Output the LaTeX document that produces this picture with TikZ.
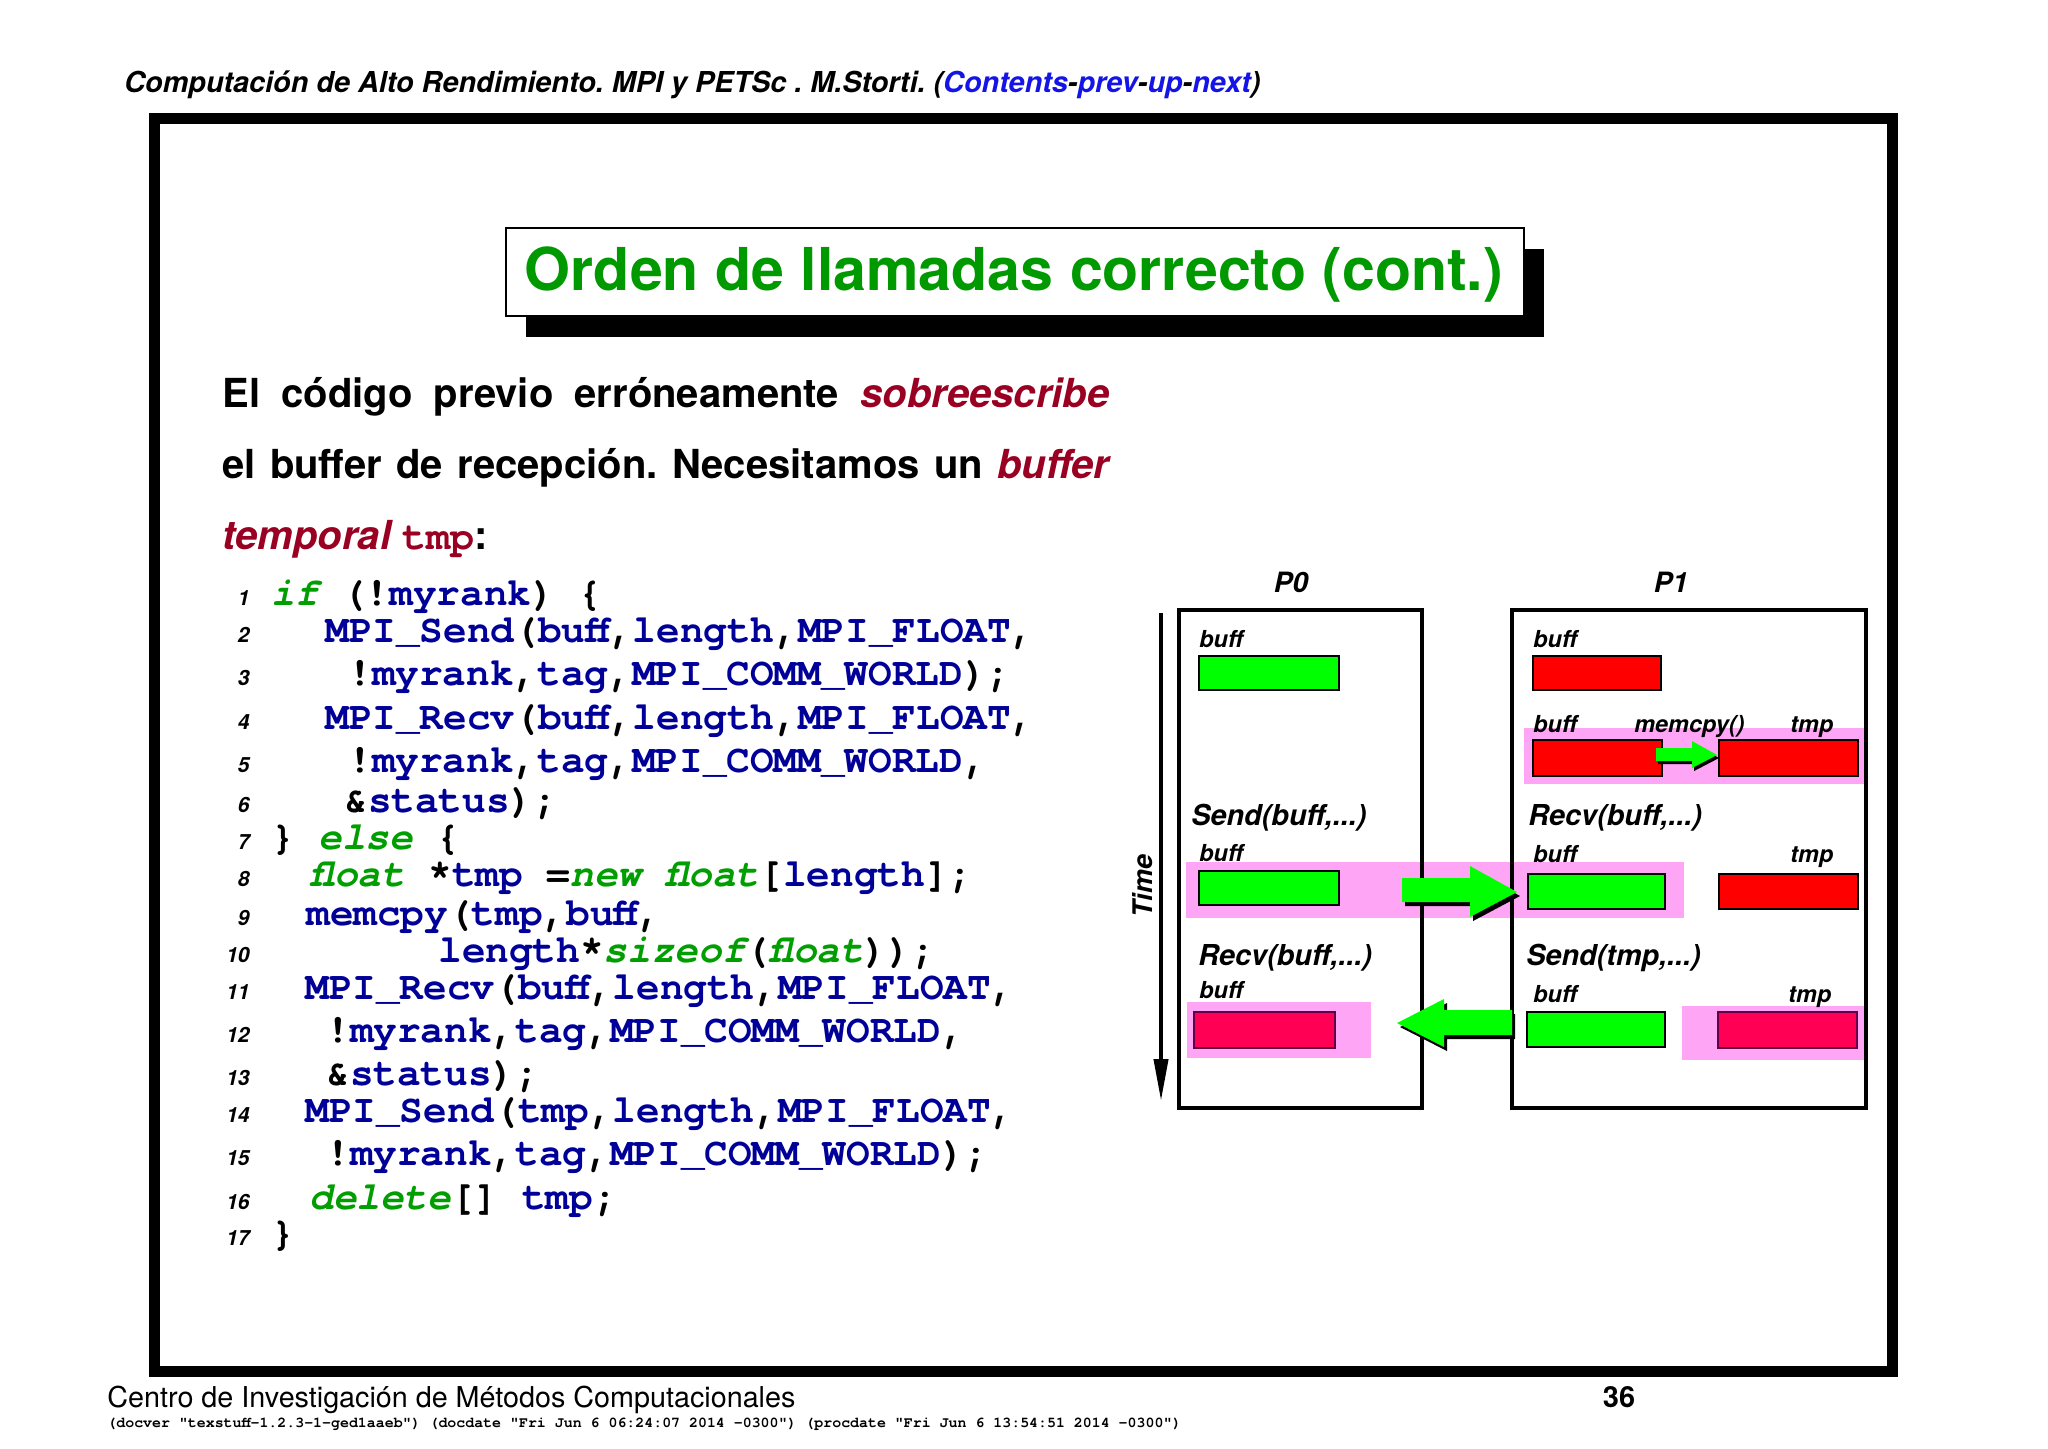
\documentclass[tikz,border=0pt]{standalone}
\usepackage{fontspec}
\usepackage{graphicx}
\setmainfont{TeX Gyre Heros}
\setmonofont{TeX Gyre Cursor}
\usetikzlibrary{arrows.meta,fit}
\definecolor{titgreen}{RGB}{0,153,0}
\definecolor{codeblue}{RGB}{0,0,153}
\definecolor{codegreen}{RGB}{0,158,0}
\definecolor{darkred}{RGB}{153,0,34}
\definecolor{linkblue}{RGB}{20,20,230}
\definecolor{pinkband}{RGB}{255,165,245}
\definecolor{crimson}{RGB}{255,0,85}
\definecolor{crimsonedge}{RGB}{100,0,70}
\definecolor{bgreen}{RGB}{0,255,0}
\definecolor{bred}{RGB}{255,0,0}
\newcommand\cb[1]{\textcolor{codeblue}{#1}}
\newcommand\kw[1]{\textcolor{codegreen}{\itshape #1}}
\newcommand\dr[1]{\textcolor{darkred}{#1}}
\newcommand\lk[1]{\textcolor{linkblue}{#1}}
\frenchspacing
\begin{document}
\begin{tikzpicture}[x=0.5pt,y=-0.5pt,
  lbl/.style={anchor=base west, inner sep=0, font=\bfseries\itshape\fontsize{11.7}{12}\selectfont},
  callt/.style={anchor=base west, inner sep=0, font=\bfseries\itshape\fontsize{14.4}{15}\selectfont},
  proc/.style={anchor=base, inner sep=0, font=\bfseries\itshape\fontsize{14}{15}\selectfont},
  code/.style={anchor=base west, inner sep=0, text height=12pt, text depth=2.5pt, font=\ttfamily\bfseries\fontsize{19.7}{21}\selectfont},
  lnum/.style={anchor=base east, inner sep=0, font=\bfseries\itshape\fontsize{10.5}{11}\selectfont},
  body/.style={anchor=base west, inner sep=0, font=\bfseries\fontsize{20}{22}\selectfont\frenchspacing},
  buf/.style={draw=black, line width=1.4pt, inner sep=0},
  band/.style={fill=pinkband, inner sep=0},
  procbox/.style={draw=black, line width=2pt, inner sep=0},
  shadowfill/.style={fill=black},
  arrfill/.style={fill=bgreen}]
\useasboundingbox (0,0) rectangle (2048,1448);
\fill[white] (0,0) rectangle (2048,1448);

% header
\node[anchor=base west, inner sep=0] (hdr) at (124,92) {\resizebox{568pt}{!}{\bfseries\itshape Computación de Alto Rendimiento. MPI y PETSc . M.Storti. (\lk{Contents}-\lk{prev}-\lk{up}-\lk{next})}};

% frame
\draw[line width=5.5pt] (154,118) rectangle (1892,1371);

% title
\node[minimum width=509pt, minimum height=44pt, inner sep=0] (title) at (1015,272) {};
\fill[black] ([shift={(20,21)}]title.south west) rectangle ([shift={(20,21)}]title.north east);
\filldraw[fill=white, draw=black, line width=1pt] (title.south west) rectangle (title.north east);
\node[anchor=base, inner sep=0, text=titgreen, font=\bfseries] (ttl) at (1014,290) {\resizebox{489pt}{!}{Orden de llamadas correcto (cont.)}};

% body text
\node[body] (t1) at (222,407) {\makebox[443.5pt][s]{El código previo erróneamente \dr{\itshape sobreescribe}}};
\node[body] (t2) at (222,478) {\makebox[443.5pt][s]{el buffer de recepción. Necesitamos un \dr{\itshape buffer}}};
\node[body] (t3) at (222,549) {\dr{\itshape temporal} \dr{\ttfamily tmp}:};

% code
\node[lnum] (n1) at (250,605) {1};
\node[lnum] (n2) at (250,642) {2};
\node[lnum] (n3) at (250,685) {3};
\node[lnum] (n4) at (250,729) {4};
\node[lnum] (n5) at (250,772) {5};
\node[lnum] (n6) at (250,812) {6};
\node[lnum] (n7) at (250,849) {7};
\node[lnum] (n8) at (250,886) {8};
\node[lnum] (n9) at (250,925) {9};
\node[lnum] (n10) at (250,962) {10};
\node[lnum] (n11) at (250,999) {11};
\node[lnum] (n12) at (250,1042) {12};
\node[lnum] (n13) at (250,1085) {13};
\node[lnum] (n14) at (250,1122) {14};
\node[lnum] (n15) at (250,1165) {15};
\node[lnum] (n16) at (250,1209) {16};
\node[lnum] (n17) at (250,1245) {17};

\node[code] (c1) at (271,605) {\kw{if} (!\cb{myrank}) \{};
\node[code] (c2) at (325,642) {\cb{MPI\_Send}(\cb{buff},\cb{length},\cb{MPI\_FLOAT},};
\node[code] (c3) at (348,685) {!\cb{myrank},\cb{tag},\cb{MPI\_COMM\_WORLD});};
\node[code] (c4) at (325,729) {\cb{MPI\_Recv}(\cb{buff},\cb{length},\cb{MPI\_FLOAT},};
\node[code] (c5) at (348,772) {!\cb{myrank},\cb{tag},\cb{MPI\_COMM\_WORLD},};
\node[code] (c6) at (344,812) {\&\cb{status});};
\node[code] (c7) at (271,849) {\} \kw{else} \{};
\node[code] (c8) at (310,886) {\kw{float} *\cb{tmp} =\kw{new} \kw{float}[\cb{length}];};
\node[code] (c9) at (306,925) {\cb{memcpy}(\cb{tmp},\cb{buff},};
\node[code] (c10) at (438,962) {\cb{length}*\kw{sizeof}(\kw{float}));};
\node[code] (c11) at (305,999) {\cb{MPI\_Recv}(\cb{buff},\cb{length},\cb{MPI\_FLOAT},};
\node[code] (c12) at (326,1042) {!\cb{myrank},\cb{tag},\cb{MPI\_COMM\_WORLD},};
\node[code] (c13) at (326,1085) {\&\cb{status});};
\node[code] (c14) at (305,1122) {\cb{MPI\_Send}(\cb{tmp},\cb{length},\cb{MPI\_FLOAT},};
\node[code] (c15) at (326,1165) {!\cb{myrank},\cb{tag},\cb{MPI\_COMM\_WORLD});};
\node[code] (c16) at (309,1209) {\kw{delete}[] \cb{tmp};};
\node[code] (c17) at (271,1245) {\}};

% ---------- diagram ----------
% pink bands
\node[band, fit={(1524,728) (1868,784)}] (pb1) {};
\node[band, fit={(1186,862) (1684,918)}] (pb2) {};
\node[band, fit={(1187,1002) (1371,1058)}] (pb3) {};
\node[band, fit={(1682,1006) (1866,1060)}] (pb4) {};

% process boxes
\node[procbox, fit={(1179,610) (1422,1108)}] (P0box) {};
\node[procbox, fit={(1512,610) (1866,1108)}] (P1box) {};
\node[proc] (P0) at (1291,592) {P0};
\node[proc] (P1) at (1671,592) {P1};

% time axis
\coordinate (tA) at (1161,613);
\coordinate (tB) at (1161,1101);
\draw[line width=2pt, -{Triangle[length=21pt,width=7pt]}] (tA) -- (tB);
\node[rotate=90, inner sep=0, font=\bfseries\itshape\fontsize{13.5}{14}\selectfont] (time) at (1143,886) {Time};

% buffers P0
\node[buf, fill=bgreen, fit={(1199,656) (1339,690)}] (g1) {};
\node[buf, fill=bgreen, fit={(1199,871) (1339,905)}] (g2) {};
\node[buf, fill=crimson, draw=crimsonedge, fit={(1194,1012) (1335,1048)}] (k1) {};
% buffers P1
\node[buf, fill=bred, fit={(1533,656) (1661,690)}] (r1) {};
\node[buf, fill=bred, fit={(1533,740) (1662,776)}] (r2) {};
\node[buf, fill=bred, fit={(1719,740) (1858,776)}] (r3) {};
\node[buf, fill=bgreen, fit={(1528,874) (1665,909)}] (g3) {};
\node[buf, fill=bred, fit={(1719,874) (1858,909)}] (r4) {};
\node[buf, fill=bgreen, fit={(1527,1012) (1665,1047)}] (g4) {};
\node[buf, fill=crimson, draw=crimsonedge, fit={(1718,1012) (1857,1048)}] (k2) {};

% labels P0
\node[lbl] (lb1) at (1199,647) {buff};
\node[callt] (s1) at (1191,825) {Send(buff,...)};
\node[lbl] (lb2) at (1199,861) {buff};
\node[callt] (s2) at (1198,965) {Recv(buff,...)};
\node[lbl] (lb3) at (1199,998) {buff};
% labels P1
\node[lbl] (lb4) at (1533,647) {buff};
\node[lbl] (lb5) at (1533,732) {buff};
\node[lbl] (mc) at (1634,732) {memcpy()};
\node[lbl] (tp1) at (1790,732) {tmp};
\node[callt] (s3) at (1528,825) {Recv(buff,...)};
\node[lbl] (lb6) at (1533,862) {buff};
\node[lbl] (tp2) at (1790,862) {tmp};
\node[callt] (s4) at (1526,965) {Send(tmp,...)};
\node[lbl] (lb7) at (1533,1002) {buff};
\node[lbl] (tp3) at (1788,1002) {tmp};

% block arrows
\fill[shadowfill, shift={(3,4)}] (1402,878) -- (1470,878) -- (1470,866) -- (1517,892) -- (1470,917) -- (1470,902) -- (1402,902) -- cycle;
\fill[arrfill] (1402,878) -- (1470,878) -- (1470,866) -- (1517,892) -- (1470,917) -- (1470,902) -- (1402,902) -- cycle;

\fill[shadowfill, shift={(2,3)}] (1656,748) -- (1692,748) -- (1692,741) -- (1717,755) -- (1692,768) -- (1692,761) -- (1656,761) -- cycle;
\fill[arrfill] (1656,748) -- (1692,748) -- (1692,741) -- (1717,755) -- (1692,768) -- (1692,761) -- (1656,761) -- cycle;

\fill[shadowfill, shift={(3,4)}] (1512,1010) -- (1444,1010) -- (1444,999) -- (1397,1023) -- (1444,1047) -- (1444,1035) -- (1512,1035) -- cycle;
\fill[arrfill] (1512,1010) -- (1444,1010) -- (1444,999) -- (1397,1023) -- (1444,1047) -- (1444,1035) -- (1512,1035) -- cycle;

% footer
\node[anchor=base west, inner sep=0] (foot) at (107,1407) {\resizebox{344pt}{!}{Centro de Investigación de Métodos Computacionales}};
\node[anchor=base, inner sep=0, font=\bfseries\fontsize{14.5}{15}\selectfont] (pg) at (1619,1407) {36};
\node[anchor=base west, inner sep=0] (ver) at (107,1427) {\resizebox{537pt}{!}{\ttfamily\bfseries (docver "texstuff-1.2.3-1-ged1aaeb") (docdate "Fri Jun 6 06:24:07 2014 -0300") (procdate "Fri Jun 6 13:54:51 2014 -0300")}};
\end{tikzpicture}
\end{document}
